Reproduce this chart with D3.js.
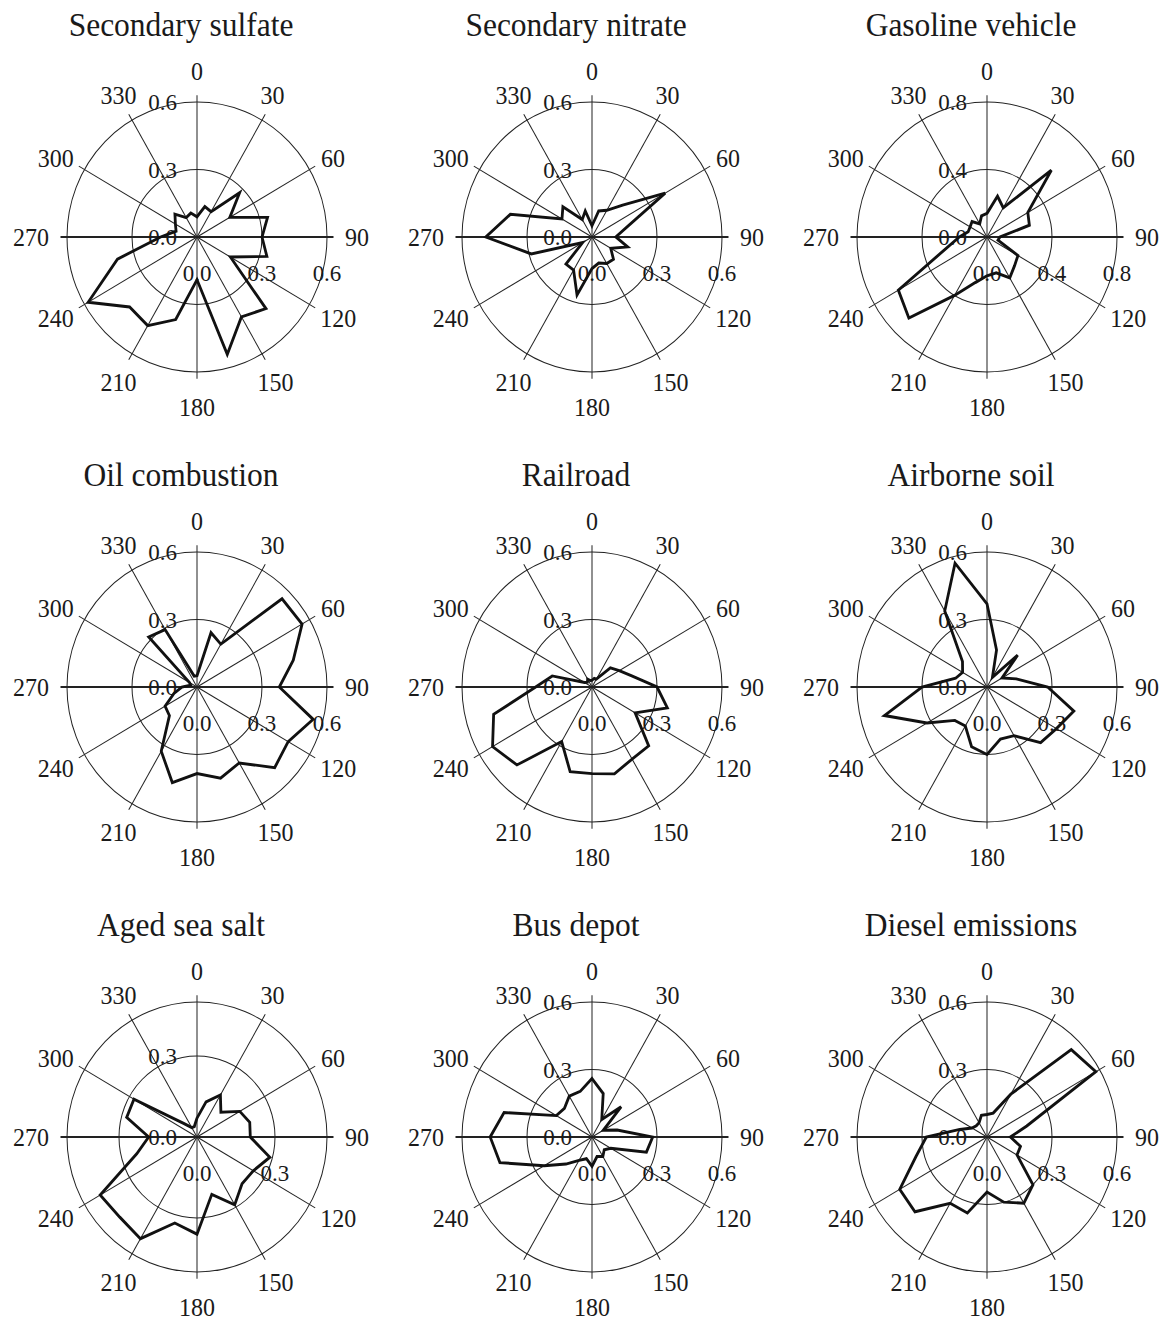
<!DOCTYPE html>
<html>
<head>
<meta charset="utf-8">
<script src="https://cdn.jsdelivr.net/npm/d3@7"></script>
<style>
    body { margin: 0; background: #ffffff; }
    text { font-family: "Liberation Serif", "Times New Roman", serif; fill: #1a1a1a; }
</style>
</head>
<body>
<div class="curr-graff"></div>
<script>
// wind directions (deg) of the data points
let directions = [0, 15, 30, 45, 60, 75, 90, 105, 120, 135, 150, 165,
                  180, 195, 210, 225, 240, 255, 270, 285, 300, 315, 330, 345];
let angleLabels = [0, 30, 60, 90, 120, 150, 180, 210, 240, 270, 300, 330];

let titles = ["Secondary sulfate", "Secondary nitrate", "Gasoline vehicle",
              "Oil combustion", "Railroad", "Airborne soil",
              "Aged sea salt", "Bus depot", "Diesel emissions"];
let rMax = [0.6, 0.6, 0.8, 0.6, 0.6, 0.6, 0.5, 0.6, 0.6];
let rTicks = [[0, 0.3, 0.6], [0, 0.3, 0.6], [0, 0.4, 0.8],
              [0, 0.3, 0.6], [0, 0.3, 0.6], [0, 0.3, 0.6],
              [0, 0.3], [0, 0.3, 0.6], [0, 0.3, 0.6]];

let sulfate  = [0.09, 0.14, 0.13, 0.278, 0.175, 0.337, 0.30, 0.334, 0.178, 0.45, 0.41, 0.54,
                0.19, 0.38, 0.455, 0.44, 0.58, 0.38, 0.168, 0.10, 0.115, 0.144, 0.10, 0.11];
let nitrate  = [0.05, 0.12, 0.137, 0.20, 0.39, 0.165, 0.11, 0.17, 0.10, 0.14, 0.136, 0.12,
                0.14, 0.267, 0.17, 0.17, 0.05, 0.29, 0.49, 0.39, 0.16, 0.19, 0.09, 0.12];
let gasoline = [0.14, 0.25, 0.20, 0.56, 0.29, 0.27, 0.08, 0.07, 0.22, 0.24, 0.28, 0.22,
                0.23, 0.28, 0.40, 0.68, 0.63, 0.26, 0.17, 0.12, 0.12, 0.13, 0.09, 0.13];
let oil      = [0.05, 0.25, 0.22, 0.555, 0.56, 0.46, 0.38, 0.555, 0.486, 0.507, 0.39, 0.42,
                0.385, 0.44, 0.33, 0.18, 0.17, 0.11, 0.07, 0.03, 0.04, 0.315, 0.295, 0.05];
let railroad = [0.03, 0.04, 0.04, 0.12, 0.145, 0.19, 0.30, 0.36, 0.23, 0.37, 0.37, 0.40,
                0.385, 0.39, 0.28, 0.49, 0.53, 0.47, 0.26, 0.19, 0.04, 0.03, 0.04, 0.03];
let soil     = [0.37, 0.17, 0.05, 0.20, 0.08, 0.14, 0.28, 0.415, 0.37, 0.35, 0.25, 0.24,
                0.30, 0.275, 0.20, 0.21, 0.32, 0.49, 0.30, 0.15, 0.13, 0.16, 0.39, 0.57];
let seaSalt  = [0.07, 0.135, 0.18, 0.13, 0.19, 0.21, 0.205, 0.29, 0.25, 0.245, 0.29, 0.22,
                0.36, 0.33, 0.435, 0.42, 0.43, 0.24, 0.186, 0.28, 0.28, 0.07, 0.04, 0.04];
let busDepot = [0.26, 0.20, 0.09, 0.19, 0.06, 0.12, 0.28, 0.26, 0.10, 0.08, 0.10, 0.09,
                0.13, 0.10, 0.12, 0.17, 0.255, 0.44, 0.47, 0.42, 0.19, 0.18, 0.21, 0.21];
let diesel   = [0.10, 0.11, 0.22, 0.55, 0.58, 0.19, 0.108, 0.16, 0.16, 0.30, 0.34, 0.30,
                0.245, 0.35, 0.34, 0.47, 0.465, 0.34, 0.28, 0.13, 0.08, 0.07, 0.073, 0.10];

let allSeries = [sulfate, nitrate, gasoline, oil, railroad, soil, seaSalt, busDepot, diesel];

let R = 130;

let svg = d3.select(".curr-graff")
    .append("svg")
    .attr("width", 1165)
    .attr("height", 1323);

function DrawPolar(k) {
    let col = k % 3;
    let row = Math.floor(k / 3);
    let cx = 197 + col * 395;
    let cy = 237 + row * 450;

    let g = svg.append("g")
        .attr("transform", "translate(" + cx + "," + cy + ") scale(1,1.038)");

    let rScale = d3.scaleLinear()
        .domain([0, rMax[k]])
        .range([0, R]);

    g.append("text")
        .attr("x", -16)
        .attr("y", -204)
        .attr("text-anchor", "middle")
        .attr("dominant-baseline", "central")
        .attr("font-size", 31.5)
        .text(titles[k]);

    // rings
    let rings = rTicks[k].filter(d => d > 0 && d < rMax[k]).concat([rMax[k]]);
    g.selectAll(".ring")
        .data(rings)
        .enter()
        .append("circle")
        .attr("class", "ring")
        .attr("r", d => rScale(d))
        .attr("fill", "none")
        .attr("stroke", "#222")
        .attr("stroke-width", 1);

    // spokes
    let rad = a => a * Math.PI / 180;
    g.selectAll(".spoke")
        .data(angleLabels)
        .enter()
        .append("line")
        .attr("class", "spoke")
        .attr("x1", 0)
        .attr("y1", 0)
        .attr("x2", d => Math.sin(rad(d)) * R * 1.05)
        .attr("y2", d => -Math.cos(rad(d)) * R * 1.05)
        .attr("stroke", "#222")
        .attr("stroke-width", d => (d % 180 === 90) ? 2 : 1);

    // direction labels
    g.selectAll(".dir")
        .data(angleLabels)
        .enter()
        .append("text")
        .attr("class", "dir")
        .attr("x", function(d) {
            let s = Math.sin(rad(d));
            let half = 6 * String(d).length;
            return s * (136 + half + 12 * s * s);
        })
        .attr("y", function(d) {
            let c = Math.cos(rad(d));
            return -c * (150 + 10 * c * c + (c < -0.01 ? 4 : 0));
        })
        .attr("text-anchor", "middle")
        .attr("dominant-baseline", "central")
        .attr("font-size", 24)
        .text(d => d);

    let fmt = d3.format(".1f");

    // value labels, vertical axis
    g.selectAll(".vlab")
        .data(rTicks[k])
        .enter()
        .append("text")
        .attr("class", "vlab")
        .attr("x", -20)
        .attr("y", d => -rScale(d))
        .attr("text-anchor", "end")
        .attr("dominant-baseline", "central")
        .attr("font-size", 23)
        .text(d => fmt(d));

    // value labels, horizontal axis
    g.selectAll(".hlab")
        .data(rTicks[k])
        .enter()
        .append("text")
        .attr("class", "hlab")
        .attr("x", d => rScale(d))
        .attr("y", 35)
        .attr("text-anchor", "middle")
        .attr("dominant-baseline", "central")
        .attr("font-size", 23)
        .text(d => fmt(d));

    let line = d3.lineRadial()
        .angle((d, i) => rad(directions[i]))
        .radius(d => rScale(d))
        .curve(d3.curveLinearClosed);

    g.append("path")
        .datum(allSeries[k])
        .attr("d", line)
        .attr("fill", "none")
        .attr("stroke", "#111")
        .attr("stroke-width", 2.8)
        .attr("stroke-linejoin", "miter");
}

for (let k = 0; k < titles.length; k++) {
    DrawPolar(k);
}
</script>
</body>
</html>
